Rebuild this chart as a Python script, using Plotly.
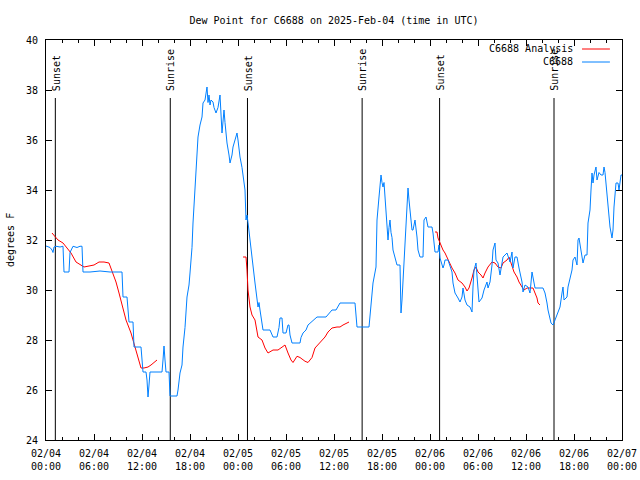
import pandas as pd
import plotly.graph_objects as go

START = "2025-02-04 00:00"
END = "2025-02-07 00:00"
TITLE = "Dew Point for C6688 on 2025-Feb-04 (time in UTC)"
Y_LABEL = "degrees F"
Y_TICKS = [24, 26, 28, 30, 32, 34, 36, 38, 40]

# Observations (hours after START, degrees F)
obs_hours = [
    0.0, 0.5, 0.75, 0.875, 1.0, 1.25, 1.75, 2.125, 2.25, 2.875,
    3.0, 3.375, 3.875, 4.25, 4.5, 4.625, 5.5, 6.75, 8.0, 9.25,
    9.5, 9.625, 10.125, 10.375, 10.875, 11.0, 11.875, 12.125, 12.5, 12.625,
    12.75, 12.875, 13.0, 13.375, 14.5, 14.625, 14.75, 14.875, 15.0, 15.375,
    15.5, 16.375, 16.5, 16.75, 17.0, 17.125, 17.375, 17.625, 17.875, 18.0,
    18.25, 18.375, 18.625, 18.75, 19.0, 19.25, 19.5, 19.625, 19.875, 20.125,
    20.25, 20.375, 20.5, 20.625, 20.875, 21.0, 21.25, 21.5, 21.75, 22.0,
    22.125, 22.25, 22.375, 22.625, 22.875, 23.0, 23.25, 23.375, 23.625, 23.875,
    24.0, 24.25, 24.5, 24.625, 24.875, 25.0, 25.125, 25.25, 25.5, 25.75,
    26.125, 26.5, 26.625, 26.75, 27.125, 28.0, 28.25, 28.375, 28.875, 29.125,
    29.25, 29.5, 29.625, 30.0, 30.25, 30.375, 30.5, 30.75, 31.75, 31.875,
    32.125, 32.5, 32.75, 33.0, 33.375, 33.875, 35.0, 35.25, 35.75, 36.25,
    36.75, 38.625, 38.875, 40.375, 40.5, 40.75, 40.875, 41.25, 41.375, 41.625,
    41.875, 42.0, 42.125, 42.25, 42.375, 42.5, 42.75, 42.875, 43.0, 43.125,
    43.25, 43.375, 43.625, 43.875, 44.25, 44.375, 44.5, 44.625, 44.875, 45.125,
    45.25, 45.375, 45.5, 45.75, 45.875, 46.125, 46.375, 46.5, 46.75, 47.125,
    47.25, 47.5, 47.75, 48.25, 48.375, 48.5, 48.625, 49.0, 49.125, 49.25,
    49.5, 49.625, 49.75, 49.875, 50.25, 50.5, 50.75, 50.875, 51.125, 51.5,
    51.75, 52.0, 52.125, 52.375, 52.625, 53.0, 53.25, 53.375, 53.5, 53.75,
    53.875, 54.125, 54.5, 54.75, 55.125, 55.25, 55.5, 55.75, 55.875, 56.125,
    56.25, 56.5, 56.75, 57.0, 57.125, 57.625, 58.0, 58.25, 58.375, 58.625,
    58.875, 59.125, 59.5, 59.625, 59.875, 60.25, 60.5, 60.75, 60.875, 61.125,
    62.125, 62.375, 62.625, 62.75, 63.125, 63.375, 63.625, 64.0, 64.25, 64.5,
    64.625, 64.75, 65.125, 65.25, 65.5, 65.75, 65.875, 66.125, 66.375, 66.5,
    66.625, 66.875, 67.125, 67.375, 67.625, 67.75, 68.0, 68.125, 68.25, 68.375,
    68.5, 68.75, 68.875, 69.125, 69.375, 69.625, 69.75, 69.875, 70.125, 70.25,
    70.5, 70.75, 70.875, 71.0, 71.25, 71.5, 71.625, 71.875, 72.0,
]
obs_values = [
    31.76, 31.7, 31.6, 31.5, 31.72, 31.75, 31.72, 31.75, 30.72, 30.72,
    31.5, 31.75, 31.7, 31.75, 31.75, 30.72, 30.72, 30.76, 30.72, 30.72,
    30.72, 29.72, 29.72, 28.72, 28.72, 27.72, 27.72, 26.72, 26.72, 26.4,
    25.72, 26.2, 26.72, 26.72, 26.72, 27.2, 27.76, 27.2, 26.72, 26.72,
    25.76, 25.76, 26.0, 26.68, 27.0, 27.72, 28.5, 29.72, 30.2, 30.68,
    31.7, 32.68, 34.0, 35.0, 36.12, 36.6, 36.92, 37.48, 37.6, 38.12,
    37.5, 37.8, 37.4, 37.6, 37.52, 37.3, 37.08, 37.3, 37.8, 36.28,
    36.9, 37.2, 36.7, 35.88, 35.4, 35.08, 35.4, 35.72, 36.0, 36.28,
    36.0, 35.32, 34.9, 34.52, 34.0, 32.8, 33.0, 32.7, 32.0, 31.08,
    30.28, 29.32, 29.5, 29.2, 28.4, 28.4, 28.2, 28.12, 28.12, 28.5,
    28.88, 28.88, 28.28, 28.28, 28.6, 28.6, 28.2, 27.88, 27.88, 28.1,
    28.28, 28.4, 28.6, 28.68, 28.8, 28.92, 28.92, 29.0, 29.2, 29.2,
    29.48, 29.48, 28.52, 28.52, 29.0, 29.6, 30.28, 30.92, 32.8, 33.72,
    34.6, 34.3, 34.12, 34.3, 33.8, 33.08, 32.0, 32.5, 32.8, 32.3,
    32.1, 31.6, 31.32, 31.0, 31.0, 29.08, 29.6, 30.4, 31.88, 33.32,
    34.08, 33.6, 33.2, 32.4, 32.4, 32.8, 32.12, 31.6, 31.32, 31.32,
    32.8, 32.92, 32.52, 32.52, 32.28, 32.0, 31.52, 31.52, 31.8, 31.28,
    31.0, 30.88, 31.0, 31.2, 31.2, 31.0, 30.72, 30.28, 29.88, 29.68,
    29.52, 29.72, 30.08, 29.6, 29.4, 29.32, 29.12, 30.12, 30.8, 31.08,
    30.4, 29.52, 29.68, 30.0, 30.32, 30.08, 30.32, 31.0, 31.6, 31.88,
    31.2, 31.08, 30.6, 31.0, 31.32, 31.48, 31.12, 31.52, 30.88, 31.32,
    31.32, 30.88, 30.32, 29.92, 30.2, 30.12, 29.88, 30.72, 30.48, 30.08,
    30.08, 29.88, 29.48, 29.2, 28.68, 28.6, 28.8, 29.08, 29.32, 29.88,
    30.12, 29.6, 29.72, 30.12, 30.52, 30.8, 31.2, 31.32, 31.0, 32.0,
    32.08, 31.6, 31.08, 31.4, 31.4, 32.68, 33.2, 34.0, 34.68, 34.28,
    34.6, 34.92, 34.4, 34.7, 34.6, 34.6, 34.92, 34.7, 33.88, 33.2,
    32.52, 32.08, 32.4, 33.32, 34.28, 34.28, 34.0, 34.6, 34.6,
]

# Analysis runs (hours after START, degrees F); None separates the runs
ana_hours = [
    0.75, 1.0, 1.5, 2.125, 2.75, 3.125, 3.75, 4.375, 4.75, 5.375,
    6.0, 6.625, 7.25, 7.875, 8.375, 8.75, 9.125, 9.625, 10.0, 10.625,
    11.0, 11.5, 11.875, 12.25, 12.75, 13.125, 13.5, 13.875,
    None,
    24.625, 25.0, 25.125, 25.25, 25.5, 25.75, 26.125, 26.5, 27.0, 27.375,
    27.75, 28.375, 29.0, 29.5, 29.875, 30.25, 30.625, 30.875, 31.375, 31.75,
    32.375, 32.75, 33.25, 33.625, 34.25, 34.875, 35.25, 35.75, 36.375, 36.75,
    37.125, 37.625, 37.875,
    None,
    48.625, 48.875, 49.0, 49.25, 49.625, 49.875, 50.25, 50.75, 51.125, 51.5,
    52.0, 52.375, 52.625, 52.875, 53.25, 53.5, 53.75, 54.0, 54.375, 54.625,
    54.875, 55.25, 55.75, 56.125, 56.5, 56.875, 57.125, 57.625, 57.875, 58.25,
    58.5, 58.875, 59.125, 59.5, 59.75, 60.125, 60.5, 60.875, 61.125, 61.375,
    61.5, 61.75,
]
ana_values = [
    32.28, 32.2, 32.0, 31.88, 31.64, 31.48, 31.12, 31.0, 30.92, 30.96,
    31.0, 31.12, 31.12, 31.08, 30.68, 30.32, 29.88, 29.32, 28.8, 28.28,
    27.88, 27.32, 26.88, 26.88, 26.92, 27.0, 27.12, 27.2,
    None,
    31.32, 31.32, 30.8, 30.0, 29.32, 29.0, 28.8, 28.12, 28.0, 27.68,
    27.48, 27.6, 27.6, 27.72, 27.8, 27.48, 27.2, 27.1, 27.35, 27.3,
    27.15, 27.1, 27.3, 27.68, 27.92, 28.12, 28.32, 28.48, 28.52, 28.52,
    28.6, 28.68, 28.72,
    None,
    32.32, 32.32, 32.08, 31.88, 31.6, 31.48, 31.2, 30.88, 30.68, 30.4,
    30.28, 30.12, 29.96, 30.08, 30.48, 30.8, 30.92, 30.72, 30.6, 30.48,
    30.68, 30.92, 31.12, 31.08, 30.92, 30.88, 31.08, 31.2, 31.32, 31.0,
    30.72, 30.52, 30.32, 30.12, 30.0, 30.08, 30.08, 30.08, 29.88, 29.68,
    29.48, 29.4,
]

event_times = ["2025-02-04 01:10", "2025-02-04 15:32", "2025-02-05 01:11",
               "2025-02-05 15:31", "2025-02-06 01:12", "2025-02-06 15:30"]
event_labels = ["Sunset", "Sunrise", "Sunset", "Sunrise", "Sunset", "Sunrise"]

series_names = ["C6688 Analysis", "C6688"]
series_colors = ["#ff0000", "#0080ff"]

FONT = "DejaVu Sans Mono"
base = pd.Timestamp(START)


def to_time(hours):
    return [None if h is None else base + pd.Timedelta(hours=h) for h in hours]


fig = go.Figure()
fig.add_trace(go.Scatter(x=to_time(ana_hours), y=ana_values, mode="lines",
                         name=series_names[0], connectgaps=False,
                         line=dict(color=series_colors[0], width=1)))
fig.add_trace(go.Scatter(x=to_time(obs_hours), y=obs_values, mode="lines",
                         name=series_names[1],
                         line=dict(color=series_colors[1], width=1)))

shapes = []
annotations = []
for t, lab in zip(event_times, event_labels):
    shapes.append(dict(type="line", xref="x", yref="paper", x0=t, x1=t,
                       y0=0, y1=0.855, line=dict(color="black", width=1),
                       layer="below"))
    annotations.append(dict(x=t, y=0.868, xref="x", yref="paper", text=lab,
                            textangle=-90, showarrow=False, xanchor="center",
                            yanchor="bottom", xshift=1,
                            font=dict(family=FONT, size=10, color="black")))

# legend, gnuplot style (text right-aligned, sample line to the right)
for i, (nm, col) in enumerate(zip(series_names, series_colors)):
    yp = 0.9775 - i * 0.0325
    annotations.append(dict(x=0.918, y=yp, xref="paper", yref="paper", text=nm,
                            showarrow=False, xanchor="right", yanchor="middle",
                            font=dict(family=FONT, size=10, color="black")))
    shapes.append(dict(type="line", xref="paper", yref="paper", x0=0.9306,
                       x1=0.979, y0=yp, y1=yp, line=dict(color=col, width=1)))

# y-axis label
annotations.append(dict(x=-0.0625, y=0.5, xref="paper", yref="paper",
                        text=Y_LABEL, textangle=-90, showarrow=False,
                        xanchor="center", yanchor="middle",
                        font=dict(family=FONT, size=10, color="black")))

fig.update_layout(
    width=640, height=480,
    margin=dict(l=46, r=18, t=40, b=40, autoexpand=False),
    paper_bgcolor="white", plot_bgcolor="white",
    showlegend=False,
    font=dict(family=FONT, size=10, color="black"),
    title=dict(text=TITLE, x=0.5, xref="paper", y=1 - 20 / 480,
               yref="container", yanchor="middle",
               font=dict(family=FONT, size=10, color="black")),
    shapes=shapes, annotations=annotations,
)
fig.update_xaxes(
    type="date", range=[START, END], tick0=START, dtick=6 * 3600 * 1000,
    tickformat="%m/%d<br>%H:%M", ticks="inside", ticklen=6, tickcolor="black",
    showline=True, linecolor="black", linewidth=1, mirror="allticks",
    showgrid=False, zeroline=False, automargin=False, ticklabelstandoff=4,
    minor=dict(dtick=2 * 3600 * 1000, ticks="inside", ticklen=3,
               tickcolor="black", showgrid=False),
    tickfont=dict(family=FONT, size=10, color="black"),
)
fig.update_yaxes(
    range=[24, 40], tickvals=Y_TICKS, ticks="inside", ticklen=6,
    tickcolor="black", showline=True, linecolor="black", linewidth=1,
    mirror="allticks", showgrid=False, zeroline=False, automargin=False,
    ticklabelstandoff=5,
    tickfont=dict(family=FONT, size=10, color="black"),
)

fig.write_html(
    "out.html",
    config={"displayModeBar": False},
    post_script="document.body.style.margin='0';"
                "document.body.style.overflow='hidden';",
)
